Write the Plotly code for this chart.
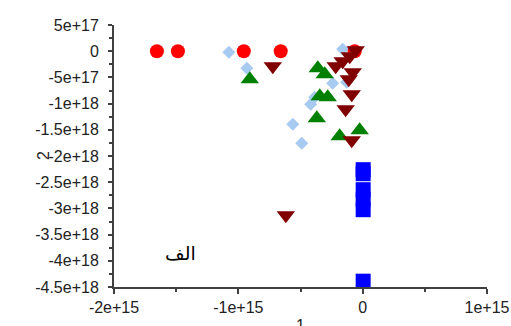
import plotly.graph_objects as go

# ---- data ----
circle_x = [-1.655e15, -1.486e15, -0.956e15, -0.659e15, -0.064e15]
circle_y = [0.0, 0.0, 0.0, 0.0, 0.0]

diamond_x = [-1.076e15, -0.932e15, -0.161e15, -0.241e15, -0.386e15, -0.418e15, -0.562e15, -0.490e15, -0.129e15]
diamond_y = [-0.02e18, -0.324e18, 0.038e18, -0.611e18, -0.878e18, -1.011e18, -1.393e18, -1.756e18, -0.592e18]

up_x = [-0.908e15, -0.361e15, -0.305e15, -0.345e15, -0.281e15, -0.369e15, -0.185e15, -0.024e15]
up_y = [-0.534e18, -0.324e18, -0.439e18, -0.859e18, -0.878e18, -1.279e18, -1.622e18, -1.508e18]

down_x = [-0.723e15, -0.618e15, -0.056e15, -0.104e15, -0.161e15, -0.217e15, -0.080e15, -0.112e15, -0.088e15, -0.137e15, -0.088e15]
down_y = [-0.286e18, -3.130e18, 0.019e18, -0.095e18, -0.191e18, -0.286e18, -0.401e18, -0.534e18, -0.821e18, -1.107e18, -1.698e18]

square_x = [0.004e15, 0.004e15, 0.004e15, 0.004e15, 0.004e15, 0.004e15]
square_y = [-2.261e18, -2.338e18, -2.643e18, -2.824e18, -3.025e18, -4.389e18]

x_ticks = [-2e15, -1e15, 0, 1e15]
x_ticktext = ["-2e+15", "-1e+15", "0", "1e+15"]
y_ticks = [5e17, 0, -5e17, -1e18, -1.5e18, -2e18, -2.5e18, -3e18, -3.5e18, -4e18, -4.5e18]
y_ticktext = ["5e+17", "0", "-5e+17", "-1e+18", "-1.5e+18", "-2e+18", "-2.5e+18",
              "-3e+18", "-3.5e+18", "-4e+18", "-4.5e+18"]

x_title = "1"
y_title = "2"
label_text = "الف"

fig = go.Figure()
fig.add_trace(go.Scatter(x=diamond_x, y=diamond_y, mode="markers",
                         marker=dict(symbol="diamond", size=10, color="#a6caf0")))
fig.add_trace(go.Scatter(x=circle_x, y=circle_y, mode="markers",
                         marker=dict(symbol="circle", size=14, color="#ff0000")))
fig.add_trace(go.Scatter(x=up_x, y=up_y, mode="markers",
                         marker=dict(symbol="triangle-up", size=16, color="#008000")))
fig.add_trace(go.Scatter(x=down_x, y=down_y, mode="markers",
                         marker=dict(symbol="triangle-down", size=16, color="#800000")))
fig.add_trace(go.Scatter(x=square_x, y=square_y, mode="markers",
                         marker=dict(symbol="square", size=15, color="#0000ff")))

axis_font = dict(family="Liberation Sans, Arial, sans-serif", size=16, color="#222222")

fig.update_layout(
    width=511, height=326,
    autosize=False,
    margin=dict(l=114, r=24, t=25, b=39, autoexpand=False),
    paper_bgcolor="white", plot_bgcolor="white",
    showlegend=False,
    xaxis=dict(range=[-2e15, 1e15], tickvals=x_ticks, ticktext=x_ticktext, automargin=False,
               showgrid=False, zeroline=False, showline=True, linecolor="#404040", linewidth=2,
               ticks="outside", ticklen=5, tickwidth=1.5, tickcolor="#404040",
               minor=dict(dtick=5e14, ticks="outside", ticklen=3, tickcolor="#404040", showgrid=False),
               tickfont=axis_font),
    yaxis=dict(range=[-4.5e18, 5e17], tickvals=y_ticks, ticktext=y_ticktext, automargin=False,
               showgrid=False, zeroline=False, showline=True, linecolor="#404040", linewidth=2,
               ticks="outside", ticklen=4, tickwidth=1.5, tickcolor="#404040",
               minor=dict(dtick=2.5e17, ticks="outside", ticklen=3, tickcolor="#404040", showgrid=False),
               tickfont=axis_font, ticklabelstandoff=6),
    annotations=[
        dict(text=y_title, xref="paper", yref="paper", x=(43 - 114) / 373, y=0.5,
             textangle=-90, showarrow=False, xanchor="center", yanchor="middle",
             font=axis_font),
        dict(text=x_title, xref="paper", yref="paper", x=0.5, y=(287 - 325) / 262,
             showarrow=False, xanchor="center", yanchor="middle", font=axis_font),
        dict(text=label_text, xref="paper", yref="paper", x=(180 - 114) / 373,
             y=(287 - 253) / 262, showarrow=False, xanchor="center", yanchor="middle",
             font=dict(family="DejaVu Serif, DejaVu Sans, serif", size=19, color="black")),
    ],
)

fig.write_html("out.html",
               config={"displayModeBar": False},
               post_script="document.body.style.margin='0';document.body.style.padding='0';")
